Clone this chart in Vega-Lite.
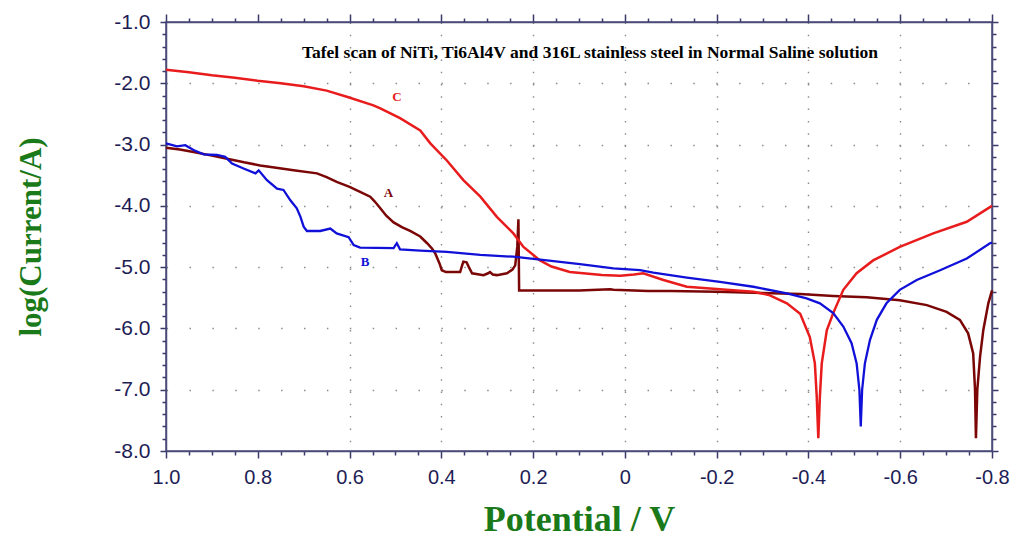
{
  "$schema": "https://vega.github.io/schema/vega-lite/v6.json",
  "width": 826,
  "height": 429,
  "autosize": {"type": "none"},
  "padding": {"left": 166, "top": 22, "right": 22, "bottom": 86},
  "background": "white",
  "config": {"view": {"stroke": "#4b4b7a", "strokeWidth": 1.5}},
  "datasets": {
    "curves": [
      {"sample":"A","potential":1.0,"logI":-3.05},{"sample":"A","potential":0.97,"logI":-3.08},{"sample":"A","potential":0.94,"logI":-3.12},{"sample":"A","potential":0.90,"logI":-3.18},{"sample":"A","potential":0.867,"logI":-3.23},{"sample":"A","potential":0.83,"logI":-3.29},{"sample":"A","potential":0.795,"logI":-3.34},{"sample":"A","potential":0.76,"logI":-3.38},{"sample":"A","potential":0.722,"logI":-3.42},{"sample":"A","potential":0.671,"logI":-3.47},{"sample":"A","potential":0.65,"logI":-3.53},{"sample":"A","potential":0.628,"logI":-3.61},{"sample":"A","potential":0.60,"logI":-3.69},{"sample":"A","potential":0.577,"logI":-3.77},{"sample":"A","potential":0.555,"logI":-3.85},{"sample":"A","potential":0.545,"logI":-3.93},{"sample":"A","potential":0.533,"logI":-4.04},{"sample":"A","potential":0.52,"logI":-4.16},{"sample":"A","potential":0.504,"logI":-4.27},{"sample":"A","potential":0.485,"logI":-4.35},{"sample":"A","potential":0.468,"logI":-4.41},{"sample":"A","potential":0.446,"logI":-4.50},{"sample":"A","potential":0.431,"logI":-4.61},{"sample":"A","potential":0.42,"logI":-4.70},{"sample":"A","potential":0.413,"logI":-4.78},{"sample":"A","potential":0.404,"logI":-4.94},{"sample":"A","potential":0.399,"logI":-5.05},{"sample":"A","potential":0.39,"logI":-5.08},{"sample":"A","potential":0.381,"logI":-5.08},{"sample":"A","potential":0.359,"logI":-5.08},{"sample":"A","potential":0.355,"logI":-4.98},{"sample":"A","potential":0.352,"logI":-4.91},{"sample":"A","potential":0.345,"logI":-4.92},{"sample":"A","potential":0.340,"logI":-5.0},{"sample":"A","potential":0.333,"logI":-5.10},{"sample":"A","potential":0.308,"logI":-5.13},{"sample":"A","potential":0.298,"logI":-5.10},{"sample":"A","potential":0.294,"logI":-5.08},{"sample":"A","potential":0.288,"logI":-5.12},{"sample":"A","potential":0.279,"logI":-5.13},{"sample":"A","potential":0.257,"logI":-5.10},{"sample":"A","potential":0.245,"logI":-5.04},{"sample":"A","potential":0.239,"logI":-4.97},{"sample":"A","potential":0.2345,"logI":-4.67},{"sample":"A","potential":0.232,"logI":-4.22},{"sample":"A","potential":0.2305,"logI":-5.38},{"sample":"A","potential":0.17,"logI":-5.38},{"sample":"A","potential":0.10,"logI":-5.38},{"sample":"A","potential":0.032,"logI":-5.36},{"sample":"A","potential":0.025,"logI":-5.37},{"sample":"A","potential":-0.05,"logI":-5.39},{"sample":"A","potential":-0.10,"logI":-5.39},{"sample":"A","potential":-0.2,"logI":-5.40},{"sample":"A","potential":-0.3,"logI":-5.42},{"sample":"A","potential":-0.382,"logI":-5.44},{"sample":"A","potential":-0.454,"logI":-5.47},{"sample":"A","potential":-0.527,"logI":-5.49},{"sample":"A","potential":-0.599,"logI":-5.54},{"sample":"A","potential":-0.658,"logI":-5.62},{"sample":"A","potential":-0.701,"logI":-5.73},{"sample":"A","potential":-0.730,"logI":-5.86},{"sample":"A","potential":-0.748,"logI":-6.08},{"sample":"A","potential":-0.759,"logI":-6.41},{"sample":"A","potential":-0.763,"logI":-7.0},{"sample":"A","potential":-0.765,"logI":-7.79},{"sample":"A","potential":-0.768,"logI":-7.0},{"sample":"A","potential":-0.774,"logI":-6.46},{"sample":"A","potential":-0.781,"logI":-6.03},{"sample":"A","potential":-0.792,"logI":-5.59},{"sample":"A","potential":-0.8,"logI":-5.38},
      {"sample":"C","potential":1.0,"logI":-1.78},{"sample":"C","potential":0.95,"logI":-1.82},{"sample":"C","potential":0.90,"logI":-1.87},{"sample":"C","potential":0.85,"logI":-1.91},{"sample":"C","potential":0.80,"logI":-1.96},{"sample":"C","potential":0.75,"logI":-2.0},{"sample":"C","potential":0.70,"logI":-2.05},{"sample":"C","potential":0.65,"logI":-2.12},{"sample":"C","potential":0.606,"logI":-2.22},{"sample":"C","potential":0.548,"logI":-2.36},{"sample":"C","potential":0.533,"logI":-2.41},{"sample":"C","potential":0.49,"logI":-2.57},{"sample":"C","potential":0.446,"logI":-2.77},{"sample":"C","potential":0.424,"logI":-2.98},{"sample":"C","potential":0.388,"logI":-3.26},{"sample":"C","potential":0.352,"logI":-3.58},{"sample":"C","potential":0.315,"logI":-3.85},{"sample":"C","potential":0.279,"logI":-4.18},{"sample":"C","potential":0.243,"logI":-4.45},{"sample":"C","potential":0.221,"logI":-4.67},{"sample":"C","potential":0.185,"logI":-4.89},{"sample":"C","potential":0.16,"logI":-4.99},{"sample":"C","potential":0.12,"logI":-5.08},{"sample":"C","potential":0.05,"logI":-5.13},{"sample":"C","potential":0.01,"logI":-5.14},{"sample":"C","potential":-0.02,"logI":-5.12},{"sample":"C","potential":-0.04,"logI":-5.10},{"sample":"C","potential":-0.084,"logI":-5.21},{"sample":"C","potential":-0.135,"logI":-5.32},{"sample":"C","potential":-0.207,"logI":-5.36},{"sample":"C","potential":-0.28,"logI":-5.40},{"sample":"C","potential":-0.316,"logI":-5.46},{"sample":"C","potential":-0.353,"logI":-5.59},{"sample":"C","potential":-0.382,"logI":-5.76},{"sample":"C","potential":-0.403,"logI":-6.14},{"sample":"C","potential":-0.414,"logI":-6.57},{"sample":"C","potential":-0.418,"logI":-7.1},{"sample":"C","potential":-0.4215,"logI":-7.79},{"sample":"C","potential":-0.425,"logI":-7.1},{"sample":"C","potential":-0.429,"logI":-6.57},{"sample":"C","potential":-0.44,"logI":-6.03},{"sample":"C","potential":-0.454,"logI":-5.75},{"sample":"C","potential":-0.476,"logI":-5.37},{"sample":"C","potential":-0.505,"logI":-5.10},{"sample":"C","potential":-0.541,"logI":-4.89},{"sample":"C","potential":-0.599,"logI":-4.67},{"sample":"C","potential":-0.672,"logI":-4.45},{"sample":"C","potential":-0.745,"logI":-4.26},{"sample":"C","potential":-0.7955,"logI":-4.02},{"sample":"C","potential":-0.8,"logI":-4.0},
      {"sample":"B","potential":1.0,"logI":-2.98},{"sample":"B","potential":0.976,"logI":-3.03},{"sample":"B","potential":0.958,"logI":-3.01},{"sample":"B","potential":0.94,"logI":-3.09},{"sample":"B","potential":0.918,"logI":-3.16},{"sample":"B","potential":0.889,"logI":-3.17},{"sample":"B","potential":0.871,"logI":-3.20},{"sample":"B","potential":0.856,"logI":-3.31},{"sample":"B","potential":0.831,"logI":-3.39},{"sample":"B","potential":0.805,"logI":-3.47},{"sample":"B","potential":0.798,"logI":-3.42},{"sample":"B","potential":0.78,"logI":-3.58},{"sample":"B","potential":0.758,"logI":-3.72},{"sample":"B","potential":0.744,"logI":-3.74},{"sample":"B","potential":0.729,"logI":-3.91},{"sample":"B","potential":0.715,"logI":-4.04},{"sample":"B","potential":0.707,"logI":-4.18},{"sample":"B","potential":0.70,"logI":-4.34},{"sample":"B","potential":0.693,"logI":-4.41},{"sample":"B","potential":0.664,"logI":-4.41},{"sample":"B","potential":0.642,"logI":-4.37},{"sample":"B","potential":0.628,"logI":-4.45},{"sample":"B","potential":0.602,"logI":-4.51},{"sample":"B","potential":0.591,"logI":-4.64},{"sample":"B","potential":0.577,"logI":-4.68},{"sample":"B","potential":0.504,"logI":-4.69},{"sample":"B","potential":0.497,"logI":-4.61},{"sample":"B","potential":0.49,"logI":-4.71},{"sample":"B","potential":0.446,"logI":-4.73},{"sample":"B","potential":0.388,"logI":-4.75},{"sample":"B","potential":0.315,"logI":-4.80},{"sample":"B","potential":0.243,"logI":-4.83},{"sample":"B","potential":0.17,"logI":-4.89},{"sample":"B","potential":0.098,"logI":-4.95},{"sample":"B","potential":0.025,"logI":-5.02},{"sample":"B","potential":-0.033,"logI":-5.05},{"sample":"B","potential":-0.062,"logI":-5.09},{"sample":"B","potential":-0.135,"logI":-5.17},{"sample":"B","potential":-0.207,"logI":-5.24},{"sample":"B","potential":-0.28,"logI":-5.32},{"sample":"B","potential":-0.353,"logI":-5.43},{"sample":"B","potential":-0.396,"logI":-5.51},{"sample":"B","potential":-0.425,"logI":-5.59},{"sample":"B","potential":-0.454,"logI":-5.75},{"sample":"B","potential":-0.476,"logI":-5.97},{"sample":"B","potential":-0.494,"logI":-6.24},{"sample":"B","potential":-0.505,"logI":-6.57},{"sample":"B","potential":-0.511,"logI":-7.0},{"sample":"B","potential":-0.514,"logI":-7.60},{"sample":"B","potential":-0.517,"logI":-7.0},{"sample":"B","potential":-0.523,"logI":-6.57},{"sample":"B","potential":-0.534,"logI":-6.19},{"sample":"B","potential":-0.549,"logI":-5.86},{"sample":"B","potential":-0.57,"logI":-5.59},{"sample":"B","potential":-0.599,"logI":-5.37},{"sample":"B","potential":-0.636,"logI":-5.21},{"sample":"B","potential":-0.687,"logI":-5.05},{"sample":"B","potential":-0.745,"logI":-4.86},{"sample":"B","potential":-0.7955,"logI":-4.61},{"sample":"B","potential":-0.8,"logI":-4.6}
    ],
    "labels": [
      {"sample":"A","potential":0.515,"logI":-3.79},
      {"sample":"B","potential":0.566,"logI":-4.91},
      {"sample":"C","potential":0.497,"logI":-2.22}
    ],
    "heading": [
      {"text":"Tafel scan of  NiTi, Ti6Al4V and 316L stainless steel in Normal Saline solution","potential":0.076,"logI":-1.51}
    ]
  },
  "resolve": {"axis": {"x": "independent", "y": "independent"}},
  "layer": [
    {
      "data": {"name": "curves"},
      "transform": [{"filter": "datum.sample == 'A'"}],
      "mark": {"type": "line", "strokeWidth": 2.5},
      "encoding": {
        "x": {"field": "potential", "type": "quantitative",
          "scale": {"domain": [-0.8, 1.0], "reverse": true, "nice": false, "zero": false},
          "axis": {"orient": "bottom",
            "values": [1.0,0.95,0.9,0.85,0.8,0.75,0.7,0.65,0.6,0.55,0.5,0.45,0.4,0.35,0.3,0.25,0.2,0.15,0.1,0.05,0,-0.05,-0.1,-0.15,-0.2,-0.25,-0.3,-0.35,-0.4,-0.45,-0.5,-0.55,-0.6,-0.65,-0.7,-0.75,-0.8],
            "labelExpr": "abs(datum.value*5 - round(datum.value*5)) < 0.001 ? (abs(datum.value) < 0.001 ? '0' : replace(format(datum.value, '.1f'), '−', '-')) : ''",
            "labelOverlap": false, "labelFlush": false,
            "labelFont": "Liberation Sans", "labelFontSize": 20, "labelColor": "#1d1d55", "labelPadding": 9,
            "tickSize": {"condition": {"test": "abs(datum.value*5 - round(datum.value*5)) < 0.001", "value": 7}, "value": 4},
            "tickColor": "#3b3b6b", "tickWidth": 1.5,
            "domainColor": "#4b4b7a", "domainWidth": 1.5,
            "grid": true, "gridColor": "#8c8c8c", "gridWidth": 1.4, "gridDash": [1.5, 10.8],
            "gridOpacity": {"condition": {"test": "abs(datum.value*5 - round(datum.value*5)) < 0.001 && abs(datum.value) < 0.79", "value": 1}, "value": 0},
            "title": "Potential / V", "titleFont": "Liberation Serif", "titleFontWeight": "bold", "titleFontSize": 36, "titleColor": "#1a7a1a", "titlePadding": 15}},
        "y": {"field": "logI", "type": "quantitative",
          "scale": {"domain": [-8, -1], "nice": false, "zero": false},
          "axis": {"orient": "left",
            "values": [-1,-1.2,-1.4,-1.6,-1.8,-2,-2.2,-2.4,-2.6,-2.8,-3,-3.2,-3.4,-3.6,-3.8,-4,-4.2,-4.4,-4.6,-4.8,-5,-5.2,-5.4,-5.6,-5.8,-6,-6.2,-6.4,-6.6,-6.8,-7,-7.2,-7.4,-7.6,-7.8,-8],
            "labelExpr": "abs(datum.value - round(datum.value)) < 0.001 ? replace(format(datum.value, '.1f'), '−', '-') : ''",
            "labelOverlap": false, "labelFlush": false,
            "labelFont": "Liberation Sans", "labelFontSize": 21, "labelColor": "#1d1d55", "labelPadding": 10,
            "tickSize": {"condition": {"test": "abs(datum.value - round(datum.value)) < 0.001", "value": 6}, "value": 4},
            "tickColor": "#3b3b6b", "tickWidth": 1.5,
            "domainColor": "#4b4b7a", "domainWidth": 1.5,
            "grid": true, "gridColor": "#8c8c8c", "gridWidth": 1.4, "gridDash": [1.5, 21.4],
            "gridOpacity": {"condition": {"test": "abs(datum.value - round(datum.value)) < 0.001 && datum.value < -1.5 && datum.value > -7.5", "value": 1}, "value": 0},
            "title": "log(Current/A)", "titleFont": "Liberation Serif", "titleFontWeight": "bold", "titleFontSize": 31, "titleColor": "#1a7a1a", "titlePadding": 66}},
        "color": {"field": "sample", "type": "nominal", "scale": {"domain": ["A","B","C"], "range": ["#7a0606","#1010d8","#e81c1c"]}, "legend": null}
      }
    },
    {
      "data": {"name": "curves"},
      "transform": [{"filter": "datum.sample == 'C'"}],
      "mark": {"type": "line", "strokeWidth": 2.5},
      "encoding": {
        "x": {"field": "potential", "type": "quantitative",
          "axis": {"orient": "top",
            "values": [1.0,0.95,0.9,0.85,0.8,0.75,0.7,0.65,0.6,0.55,0.5,0.45,0.4,0.35,0.3,0.25,0.2,0.15,0.1,0.05,0,-0.05,-0.1,-0.15,-0.2,-0.25,-0.3,-0.35,-0.4,-0.45,-0.5,-0.55,-0.6,-0.65,-0.7,-0.75,-0.8],
            "labels": false, "grid": false, "title": null,
            "tickSize": {"condition": {"test": "abs(datum.value*5 - round(datum.value*5)) < 0.001", "value": 8}, "value": 4},
            "tickColor": "#3b3b6b", "tickWidth": 1.5, "domainColor": "#4b4b7a", "domainWidth": 1.5}},
        "y": {"field": "logI", "type": "quantitative",
          "axis": {"orient": "right",
            "values": [-1,-1.2,-1.4,-1.6,-1.8,-2,-2.2,-2.4,-2.6,-2.8,-3,-3.2,-3.4,-3.6,-3.8,-4,-4.2,-4.4,-4.6,-4.8,-5,-5.2,-5.4,-5.6,-5.8,-6,-6.2,-6.4,-6.6,-6.8,-7,-7.2,-7.4,-7.6,-7.8,-8],
            "labels": false, "grid": false, "title": null,
            "tickSize": {"condition": {"test": "abs(datum.value - round(datum.value)) < 0.001", "value": 6}, "value": 4},
            "tickColor": "#3b3b6b", "tickWidth": 1.5, "domainColor": "#4b4b7a", "domainWidth": 1.5}},
        "color": {"field": "sample", "type": "nominal", "legend": null}
      }
    },
    {
      "data": {"name": "curves"},
      "transform": [{"filter": "datum.sample == 'B'"}],
      "mark": {"type": "line", "strokeWidth": 2.3},
      "encoding": {
        "x": {"field": "potential", "type": "quantitative", "axis": null},
        "y": {"field": "logI", "type": "quantitative", "axis": null},
        "color": {"field": "sample", "type": "nominal", "legend": null}
      }
    },
    {
      "data": {"name": "labels"},
      "mark": {"type": "text", "font": "Liberation Serif", "fontWeight": "bold", "fontSize": 13},
      "encoding": {
        "x": {"field": "potential", "type": "quantitative", "axis": null},
        "y": {"field": "logI", "type": "quantitative", "axis": null},
        "text": {"field": "sample"},
        "color": {"field": "sample", "type": "nominal", "legend": null}
      }
    },
    {
      "data": {"name": "heading"},
      "mark": {"type": "text", "font": "Liberation Serif", "fontWeight": "bold", "fontSize": 17.5, "color": "black"},
      "encoding": {
        "x": {"field": "potential", "type": "quantitative", "axis": null},
        "y": {"field": "logI", "type": "quantitative", "axis": null},
        "text": {"field": "text"}
      }
    }
  ]
}
